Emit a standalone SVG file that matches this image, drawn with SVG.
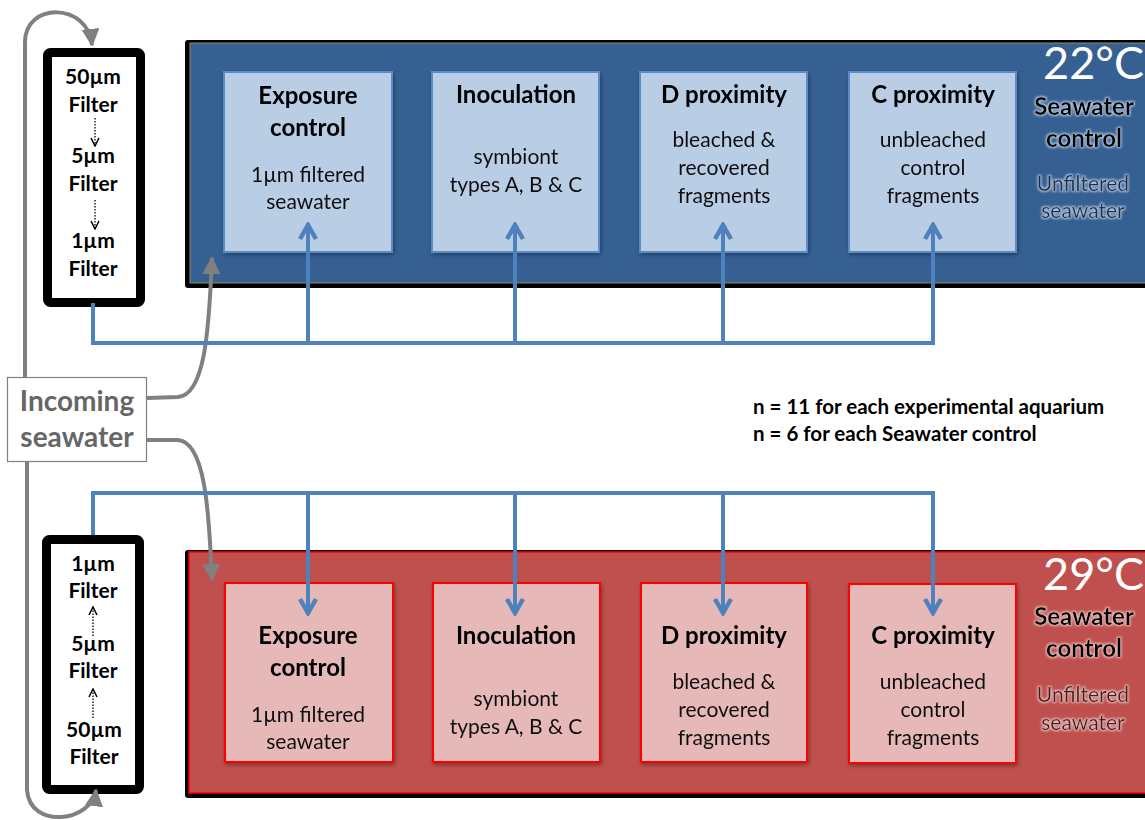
<svg xmlns="http://www.w3.org/2000/svg" width="1145" height="820" viewBox="0 0 1145 820">
<defs>
<style>
text{font-family:Lato,"Open Sans","Liberation Sans",sans-serif;text-anchor:middle}
.t{font-weight:bold;font-size:24px;fill:#000}
.s{font-size:21px;fill:#111}
.f{font-weight:bold;font-size:21px;fill:#000}
.blue{fill:none;stroke:#4F81BD;stroke-width:4}
.gray{fill:none;stroke:#808080;stroke-width:4}
.bbox{fill:#B9CDE5;stroke:#5B8CC8;stroke-width:2}
.rbox{fill:#E6B9B8;stroke:#FF0000;stroke-width:2}
.temp{font-size:45px;fill:#fff;text-anchor:end}
.sc{font-weight:bold;font-size:24px;fill:#000}
.uf{font-size:21px}
.dot{stroke:#000;stroke-width:1.3;stroke-dasharray:1.5 1.5;fill:none}
.n{text-anchor:start;font-weight:bold;font-size:20.5px;fill:#000}
</style>
<marker id="bhb" viewBox="0 0 20 20" refX="17" refY="10" markerWidth="20" markerHeight="20" markerUnits="userSpaceOnUse" orient="auto"><path d="M3,2 L17,10 L3,18" fill="none" stroke="#4F81BD" stroke-width="4.5" stroke-linejoin="miter"/></marker>
<marker id="gh" viewBox="0 0 10 10" refX="9" refY="5" markerWidth="18" markerHeight="18" markerUnits="userSpaceOnUse" orient="auto"><path d="M0,0 L10,5 L0,10 Z" fill="#808080"/></marker>
<marker id="dh" viewBox="0 0 10 10" refX="9" refY="5" markerWidth="10" markerHeight="10" markerUnits="userSpaceOnUse" orient="auto"><path d="M1,1 L9,5 L1,9" fill="none" stroke="#000" stroke-width="1.5"/></marker>
<filter id="sh" x="-10%" y="-10%" width="130%" height="130%"><feGaussianBlur in="SourceAlpha" stdDeviation="2"/><feOffset dx="1" dy="2"/><feComponentTransfer><feFuncA type="linear" slope="0.35"/></feComponentTransfer><feMerge><feMergeNode/><feMergeNode in="SourceGraphic"/></feMerge></filter>
<filter id="glowB" x="-20%" y="-30%" width="140%" height="160%"><feMorphology in="SourceAlpha" operator="dilate" radius="1.2" result="d"/><feGaussianBlur in="d" stdDeviation="1.3" result="b"/><feFlood flood-color="#B8CCE4" flood-opacity="0.9"/><feComposite in2="b" operator="in" result="g"/><feMerge><feMergeNode in="g"/><feMergeNode in="SourceGraphic"/></feMerge></filter>
<filter id="glowR" x="-20%" y="-30%" width="140%" height="160%"><feMorphology in="SourceAlpha" operator="dilate" radius="1.2" result="d"/><feGaussianBlur in="d" stdDeviation="1.3" result="b"/><feFlood flood-color="#EAC4C3" flood-opacity="0.9"/><feComposite in2="b" operator="in" result="g"/><feMerge><feMergeNode in="g"/><feMergeNode in="SourceGraphic"/></feMerge></filter>
</defs>

<g id="tank22">
<rect x="185" y="40" width="965" height="248" fill="#000" rx="3"/>
<rect x="190" y="43" width="960" height="240" fill="#366092" stroke="#8B8B6B" stroke-width="1"/>
<text class="temp" x="1144" y="79">22°C</text>
<g filter="url(#glowB)">
<text class="sc" x="1084" y="115">Seawater</text>
<text class="sc" x="1084" y="147">control</text>
<text class="uf" x="1083" y="191" fill="#1B2E48">Unfiltered</text>
<text class="uf" x="1083" y="218" fill="#1B2E48">seawater</text>
</g>
</g>
<g id="tank29">
<rect x="185" y="550" width="965" height="248" fill="#000" rx="3"/>
<rect x="189" y="552" width="960" height="241" fill="#C0504D" stroke="#FF0000" stroke-width="1.5"/>
<text class="temp" x="1144" y="590">29°C</text>
<g filter="url(#glowR)">
<text class="sc" x="1084" y="625">Seawater</text>
<text class="sc" x="1084" y="657">control</text>
<text class="uf" x="1083" y="702" fill="#4A1C1B">Unfiltered</text>
<text class="uf" x="1083" y="730" fill="#4A1C1B">seawater</text>
</g>
</g>

<g id="b-exposure" filter="url(#sh)">
<rect class="bbox" x="224" y="72" width="168" height="180"/>
<text class="t" x="308" y="104">Exposure</text>
<text class="t" x="308" y="136">control</text>
<text class="s" x="308" y="182">1µm filtered</text>
<text class="s" x="308" y="209">seawater</text>
</g>
<g id="b-inoc" filter="url(#sh)">
<rect class="bbox" x="432" y="72" width="167" height="180"/>
<text class="t" x="516" y="103">Inoculation</text>
<text class="s" x="516" y="164">symbiont</text>
<text class="s" x="516" y="192">types A, B &amp; C</text>
</g>
<g id="b-dprox" filter="url(#sh)">
<rect class="bbox" x="640" y="72" width="167" height="180"/>
<text class="t" x="724" y="103">D proximity</text>
<text class="s" x="724" y="147">bleached &amp;</text>
<text class="s" x="724" y="175">recovered</text>
<text class="s" x="724" y="203">fragments</text>
</g>
<g id="b-cprox" filter="url(#sh)">
<rect class="bbox" x="849" y="72" width="167" height="180"/>
<text class="t" x="933" y="103">C proximity</text>
<text class="s" x="933" y="147">unbleached</text>
<text class="s" x="933" y="175">control</text>
<text class="s" x="933" y="203">fragments</text>
</g>

<g id="r-exposure" filter="url(#sh)">
<rect class="rbox" x="225" y="583" width="168" height="179"/>
<text class="t" x="308" y="644">Exposure</text>
<text class="t" x="308" y="676">control</text>
<text class="s" x="308" y="722">1µm filtered</text>
<text class="s" x="308" y="749">seawater</text>
</g>
<g id="r-inoc" filter="url(#sh)">
<rect class="rbox" x="433" y="583" width="167" height="179"/>
<text class="t" x="516" y="644">Inoculation</text>
<text class="s" x="516" y="706">symbiont</text>
<text class="s" x="516" y="734">types A, B &amp; C</text>
</g>
<g id="r-dprox" filter="url(#sh)">
<rect class="rbox" x="641" y="583" width="166" height="179"/>
<text class="t" x="724" y="644">D proximity</text>
<text class="s" x="724" y="689">bleached &amp;</text>
<text class="s" x="724" y="717">recovered</text>
<text class="s" x="724" y="745">fragments</text>
</g>
<g id="r-cprox" filter="url(#sh)">
<rect class="rbox" x="849" y="584" width="167" height="179"/>
<text class="t" x="933" y="644">C proximity</text>
<text class="s" x="933" y="689">unbleached</text>
<text class="s" x="933" y="717">control</text>
<text class="s" x="933" y="745">fragments</text>
</g>

<g id="filter-top">
<rect x="47.5" y="52.5" width="93" height="250" rx="3" fill="#fff" stroke="#000" stroke-width="9"/>
<text class="f" x="93" y="84">50µm</text>
<text class="f" x="93" y="112">Filter</text>
<text class="f" x="93" y="163">5µm</text>
<text class="f" x="93" y="191">Filter</text>
<text class="f" x="93" y="248">1µm</text>
<text class="f" x="93" y="276">Filter</text>
<line class="dot" x1="95" y1="118" x2="95" y2="146" marker-end="url(#dh)"/>
<line class="dot" x1="95" y1="200" x2="95" y2="229" marker-end="url(#dh)"/>
</g>
<g id="filter-bottom">
<rect x="46.5" y="539.5" width="93" height="250" rx="3" fill="#fff" stroke="#000" stroke-width="9"/>
<text class="f" x="93" y="571">1µm</text>
<text class="f" x="93" y="598">Filter</text>
<text class="f" x="93" y="651">5µm</text>
<text class="f" x="93" y="678">Filter</text>
<text class="f" x="94" y="737">50µm</text>
<text class="f" x="94" y="764">Filter</text>
<line class="dot" x1="93" y1="636" x2="93" y2="607" marker-end="url(#dh)"/>
<line class="dot" x1="93" y1="718" x2="93" y2="689" marker-end="url(#dh)"/>
</g>

<g id="incoming">
<rect x="7.5" y="377.5" width="139" height="84" fill="#fff" stroke="#808080" stroke-width="1.2"/>
<text x="77" y="411" style="font-weight:bold;font-size:28px;fill:#666">Incoming</text>
<text x="77" y="447" style="font-weight:bold;font-size:28px;fill:#666">seawater</text>
</g>

<g id="connectors">
<path class="gray" d="M25,377 L25,42 C25,2 88,2 92,45" marker-end="url(#gh)"/>
<path class="gray" d="M27,462 L27,790 C30,830 92,822 96,790" marker-end="url(#gh)"/>
<path class="gray" d="M147,398 L178,397 C205,395 209,330 212,258" marker-end="url(#gh)"/>
<path class="gray" d="M147,440 L178,440 C205,442 209,510 212,580" marker-end="url(#gh)"/>

<path class="blue" d="M93,303 L93,343 L935,343"/>
<path class="blue" d="M308,343 L308,225" marker-end="url(#bhb)"/>
<path class="blue" d="M515,343 L515,225" marker-end="url(#bhb)"/>
<path class="blue" d="M723,343 L723,225" marker-end="url(#bhb)"/>
<path class="blue" d="M933,345 L933,225" marker-end="url(#bhb)"/>

<path class="blue" d="M93,535 L93,493 L935,493"/>
<path class="blue" d="M308,493 L308,613" marker-end="url(#bhb)"/>
<path class="blue" d="M515,493 L515,613" marker-end="url(#bhb)"/>
<path class="blue" d="M723,493 L723,613" marker-end="url(#bhb)"/>
<path class="blue" d="M933,491 L933,613" marker-end="url(#bhb)"/>
</g>

<g id="note">
<text class="n" x="753" y="414">n = 11 for each experimental aquarium</text>
<text class="n" x="753" y="441">n = 6 for each Seawater control</text>
</g>
</svg>
